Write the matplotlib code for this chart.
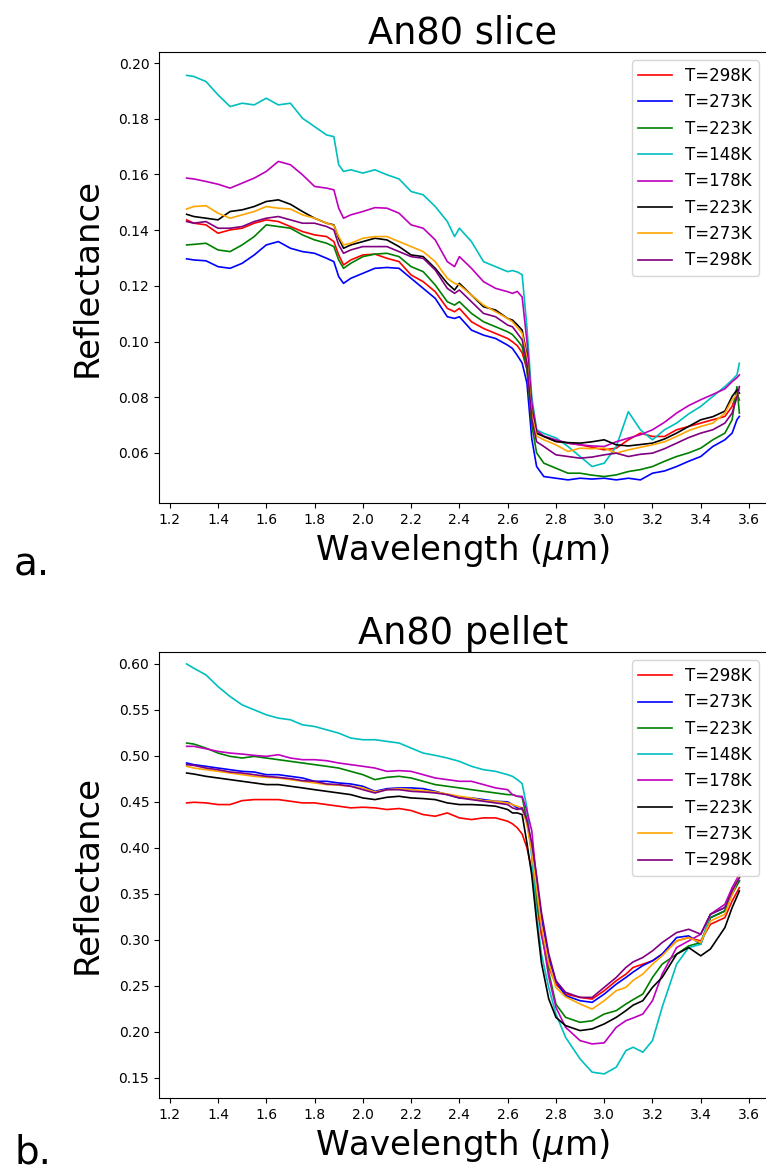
import matplotlib
matplotlib.use("Agg")
import matplotlib.pyplot as plt
from matplotlib.ticker import MultipleLocator, FormatStrFormatter

# ---------------- data: panel a (An80 slice) ----------------
wl_a = [1.27, 1.30, 1.35, 1.40, 1.45, 1.50, 1.55, 1.60, 1.65, 1.70, 1.75, 1.80, 1.85, 1.88,
        1.90, 1.92, 1.95, 2.00, 2.05, 2.10, 2.15, 2.20, 2.25, 2.30, 2.35, 2.38, 2.40, 2.45,
        2.50, 2.55, 2.60, 2.62, 2.64, 2.66, 2.68, 2.70, 2.72, 2.75, 2.80, 2.85, 2.90, 2.95,
        3.00, 3.05, 3.10, 3.15, 3.20, 3.25, 3.30, 3.35, 3.40, 3.45, 3.50, 3.53, 3.55, 3.56]

a_298 = [0.1437, 0.1425, 0.1419, 0.1389, 0.1401, 0.1407, 0.1425, 0.1437, 0.1431, 0.1413, 0.1395, 0.1383, 0.1377, 0.1359,
         0.1311, 0.1275, 0.1293, 0.1311, 0.1314, 0.1299, 0.1287, 0.1239, 0.1215, 0.1179, 0.1119, 0.1107, 0.1119, 0.1071,
         0.1047, 0.1029, 0.1011, 0.0999, 0.0985, 0.0960, 0.0900, 0.0740, 0.0680, 0.0659, 0.0641, 0.0635, 0.0629, 0.0620,
         0.0611, 0.0617, 0.0647, 0.0671, 0.0659, 0.0659, 0.0683, 0.0695, 0.0707, 0.0719, 0.0731, 0.0767, 0.0815, 0.0790]
a_273 = [0.1297, 0.1293, 0.1290, 0.1269, 0.1263, 0.1281, 0.1311, 0.1347, 0.1359, 0.1335, 0.1323, 0.1317, 0.1299, 0.1287,
         0.1233, 0.1209, 0.1227, 0.1245, 0.1263, 0.1266, 0.1263, 0.1227, 0.1191, 0.1155, 0.1089, 0.1083, 0.1089, 0.1041,
         0.1023, 0.1011, 0.0987, 0.0975, 0.0950, 0.0923, 0.0850, 0.0650, 0.0551, 0.0515, 0.0509, 0.0503, 0.0509, 0.0506,
         0.0509, 0.0503, 0.0509, 0.0503, 0.0527, 0.0535, 0.0551, 0.0570, 0.0587, 0.0623, 0.0647, 0.0671, 0.0719, 0.0731]
a_223 = [0.1347, 0.1349, 0.1353, 0.1329, 0.1323, 0.1347, 0.1377, 0.1419, 0.1413, 0.1407, 0.1383, 0.1365, 0.1353, 0.1341,
         0.1293, 0.1263, 0.1281, 0.1305, 0.1314, 0.1317, 0.1305, 0.1269, 0.1251, 0.1203, 0.1143, 0.1131, 0.1143, 0.1101,
         0.1071, 0.1053, 0.1035, 0.1025, 0.1005, 0.0982, 0.0900, 0.0700, 0.0600, 0.0563, 0.0545, 0.0527, 0.0527, 0.0520,
         0.0515, 0.0521, 0.0533, 0.0540, 0.0551, 0.0570, 0.0587, 0.0600, 0.0617, 0.0647, 0.0671, 0.0719, 0.0838, 0.0743]
a_148 = [0.1956, 0.1952, 0.1934, 0.1886, 0.1844, 0.1856, 0.1850, 0.1874, 0.1850, 0.1856, 0.1802, 0.1772, 0.1742, 0.1736,
         0.1635, 0.1611, 0.1617, 0.1605, 0.1617, 0.1599, 0.1584, 0.1539, 0.1527, 0.1485, 0.1431, 0.1377, 0.1407, 0.1359,
         0.1287, 0.1269, 0.1251, 0.1255, 0.1250, 0.1240, 0.1050, 0.0800, 0.0683, 0.0670, 0.0654, 0.0623, 0.0587, 0.0551,
         0.0563, 0.0623, 0.0748, 0.0683, 0.0647, 0.0683, 0.0707, 0.0740, 0.0767, 0.0803, 0.0838, 0.0862, 0.0880, 0.0922]
a_178 = [0.1587, 0.1584, 0.1575, 0.1565, 0.1551, 0.1569, 0.1587, 0.1611, 0.1647, 0.1635, 0.1599, 0.1557, 0.1551, 0.1545,
         0.1479, 0.1443, 0.1455, 0.1467, 0.1481, 0.1479, 0.1461, 0.1419, 0.1407, 0.1365, 0.1287, 0.1269, 0.1305, 0.1263,
         0.1215, 0.1191, 0.1179, 0.1173, 0.1180, 0.1160, 0.1000, 0.0780, 0.0680, 0.0660, 0.0647, 0.0635, 0.0629, 0.0625,
         0.0623, 0.0640, 0.0653, 0.0665, 0.0683, 0.0710, 0.0743, 0.0770, 0.0791, 0.0810, 0.0830, 0.0856, 0.0870, 0.0880]
a_223b = [0.1457, 0.1449, 0.1443, 0.1437, 0.1467, 0.1473, 0.1485, 0.1503, 0.1509, 0.1493, 0.1467, 0.1443, 0.1425, 0.1419,
          0.1371, 0.1335, 0.1347, 0.1359, 0.1371, 0.1365, 0.1341, 0.1311, 0.1305, 0.1263, 0.1209, 0.1185, 0.1209, 0.1167,
          0.1125, 0.1113, 0.1083, 0.1077, 0.1060, 0.1041, 0.0950, 0.0750, 0.0670, 0.0659, 0.0641, 0.0637, 0.0635, 0.0640,
          0.0647, 0.0629, 0.0625, 0.0630, 0.0635, 0.0650, 0.0671, 0.0695, 0.0719, 0.0730, 0.0750, 0.0803, 0.0826, 0.0815]
a_273b = [0.1476, 0.1485, 0.1488, 0.1461, 0.1443, 0.1455, 0.1467, 0.1485, 0.1479, 0.1476, 0.1455, 0.1443, 0.1425, 0.1417,
          0.1377, 0.1347, 0.1353, 0.1371, 0.1377, 0.1377, 0.1359, 0.1341, 0.1323, 0.1287, 0.1227, 0.1209, 0.1203, 0.1167,
          0.1131, 0.1107, 0.1083, 0.1071, 0.1050, 0.1030, 0.0940, 0.0740, 0.0660, 0.0647, 0.0629, 0.0605, 0.0617, 0.0615,
          0.0617, 0.0599, 0.0611, 0.0620, 0.0629, 0.0640, 0.0659, 0.0680, 0.0695, 0.0707, 0.0743, 0.0791, 0.0810, 0.0826]
a_298b = [0.1431, 0.1425, 0.1431, 0.1407, 0.1407, 0.1413, 0.1431, 0.1443, 0.1449, 0.1437, 0.1425, 0.1425, 0.1413, 0.1401,
          0.1347, 0.1317, 0.1329, 0.1341, 0.1341, 0.1341, 0.1323, 0.1305, 0.1299, 0.1257, 0.1191, 0.1173, 0.1185, 0.1143,
          0.1101, 0.1089, 0.1059, 0.1053, 0.1030, 0.1006, 0.0920, 0.0720, 0.0640, 0.0623, 0.0593, 0.0587, 0.0581, 0.0585,
          0.0593, 0.0599, 0.0587, 0.0595, 0.0599, 0.0615, 0.0635, 0.0655, 0.0671, 0.0683, 0.0707, 0.0743, 0.0800, 0.0838]

# ---------------- data: panel b (An80 pellet) ----------------
wl_b = [1.27, 1.30, 1.35, 1.40, 1.45, 1.50, 1.55, 1.60, 1.65, 1.70, 1.75, 1.80, 1.85, 1.90,
        1.95, 2.00, 2.05, 2.10, 2.15, 2.20, 2.25, 2.30, 2.35, 2.40, 2.45, 2.50, 2.55, 2.60,
        2.62, 2.64, 2.66, 2.68, 2.70, 2.72, 2.74, 2.77, 2.80, 2.84,
        2.90, 2.95, 3.00, 3.05, 3.09, 3.12, 3.16, 3.20, 3.24,
        3.30, 3.35, 3.40, 3.44, 3.50, 3.53, 3.56]

b_298 = [0.4489, 0.4496, 0.4489, 0.4471, 0.4471, 0.4514, 0.4525, 0.4525, 0.4525, 0.4507, 0.4489, 0.4489, 0.4471, 0.4453,
         0.4435, 0.4442, 0.4435, 0.4417, 0.4428, 0.4406, 0.4362, 0.4344, 0.4380, 0.4326, 0.4308, 0.4326, 0.4326, 0.4290,
         0.4261, 0.4218, 0.4150, 0.4001, 0.3750, 0.3400, 0.3050, 0.2700, 0.2518, 0.2410,
         0.2374, 0.2356, 0.2447, 0.2555, 0.2627, 0.2700, 0.2735, 0.2772, 0.2844,
         0.2988, 0.3025, 0.2988, 0.3169, 0.3241, 0.3422, 0.3567]
b_273 = [0.4923, 0.4905, 0.4887, 0.4868, 0.4850, 0.4832, 0.4825, 0.4796, 0.4796, 0.4778, 0.4760, 0.4724, 0.4724, 0.4706,
         0.4695, 0.4670, 0.4615, 0.4644, 0.4652, 0.4652, 0.4644, 0.4615, 0.4579, 0.4543, 0.4543, 0.4525, 0.4507, 0.4500,
         0.4471, 0.4435, 0.4420, 0.4300, 0.4000, 0.3642, 0.3250, 0.2800, 0.2550, 0.2393,
         0.2338, 0.2320, 0.2410, 0.2518, 0.2591, 0.2650, 0.2720, 0.2772, 0.2844,
         0.3025, 0.3043, 0.2952, 0.3241, 0.3314, 0.3531, 0.3640]
b_223 = [0.5140, 0.5129, 0.5085, 0.5031, 0.4995, 0.4977, 0.4995, 0.4977, 0.4959, 0.4941, 0.4923, 0.4905, 0.4887, 0.4868,
         0.4832, 0.4796, 0.4742, 0.4767, 0.4778, 0.4760, 0.4724, 0.4688, 0.4670, 0.4652, 0.4633, 0.4615, 0.4597, 0.4579,
         0.4579, 0.4561, 0.4550, 0.4300, 0.3950, 0.3460, 0.3100, 0.2650, 0.2300, 0.2157,
         0.2103, 0.2120, 0.2193, 0.2230, 0.2302, 0.2350, 0.2410, 0.2591, 0.2735,
         0.2844, 0.2934, 0.2970, 0.3241, 0.3314, 0.3495, 0.3640]
b_148 = [0.6000, 0.5953, 0.5881, 0.5754, 0.5646, 0.5555, 0.5501, 0.5447, 0.5411, 0.5393, 0.5338, 0.5320, 0.5284, 0.5248,
         0.5194, 0.5176, 0.5176, 0.5158, 0.5140, 0.5085, 0.5031, 0.5006, 0.4977, 0.4941, 0.4887, 0.4850, 0.4832, 0.4796,
         0.4778, 0.4742, 0.4700, 0.4435, 0.3893, 0.3278, 0.2844, 0.2483, 0.2193, 0.1940,
         0.1705, 0.1561, 0.1542, 0.1615, 0.1796, 0.1832, 0.1778, 0.1904, 0.2266,
         0.2735, 0.2916, 0.2952, 0.3278, 0.3350, 0.3531, 0.3676]
b_178 = [0.5104, 0.5104, 0.5078, 0.5049, 0.5031, 0.5020, 0.5006, 0.4995, 0.5013, 0.4977, 0.4959, 0.4959, 0.4948, 0.4923,
         0.4905, 0.4887, 0.4868, 0.4832, 0.4840, 0.4832, 0.4796, 0.4760, 0.4742, 0.4724, 0.4724, 0.4688, 0.4652, 0.4633,
         0.4579, 0.4561, 0.4560, 0.4400, 0.4185, 0.3642, 0.3100, 0.2600, 0.2266, 0.2049,
         0.1904, 0.1868, 0.1880, 0.2049, 0.2121, 0.2150, 0.2193, 0.2338, 0.2627,
         0.2916, 0.2988, 0.3061, 0.3278, 0.3386, 0.3567, 0.3712]
b_223b = [0.4814, 0.4803, 0.4778, 0.4760, 0.4742, 0.4724, 0.4706, 0.4688, 0.4688, 0.4670, 0.4652, 0.4633, 0.4615, 0.4597,
          0.4579, 0.4543, 0.4525, 0.4550, 0.4561, 0.4543, 0.4536, 0.4525, 0.4489, 0.4471, 0.4471, 0.4464, 0.4453, 0.4417,
          0.4380, 0.4380, 0.4362, 0.4050, 0.3700, 0.3200, 0.2750, 0.2360, 0.2157, 0.2067,
          0.2013, 0.2031, 0.2085, 0.2157, 0.2230, 0.2290, 0.2338, 0.2483, 0.2591,
          0.2844, 0.2916, 0.2826, 0.2900, 0.3133, 0.3350, 0.3531]
b_273b = [0.4887, 0.4868, 0.4850, 0.4832, 0.4814, 0.4796, 0.4778, 0.4767, 0.4760, 0.4742, 0.4724, 0.4706, 0.4688, 0.4681,
          0.4670, 0.4652, 0.4608, 0.4633, 0.4644, 0.4633, 0.4622, 0.4608, 0.4586, 0.4561, 0.4543, 0.4514, 0.4507, 0.4489,
          0.4471, 0.4453, 0.4435, 0.4250, 0.3950, 0.3550, 0.3150, 0.2750, 0.2483, 0.2380,
          0.2302, 0.2247, 0.2338, 0.2447, 0.2483, 0.2560, 0.2627, 0.2735, 0.2826,
          0.2988, 0.3025, 0.2970, 0.3205, 0.3278, 0.3495, 0.3694]
b_298b = [0.4905, 0.4897, 0.4868, 0.4850, 0.4825, 0.4814, 0.4796, 0.4778, 0.4767, 0.4753, 0.4731, 0.4724, 0.4695, 0.4688,
          0.4670, 0.4633, 0.4597, 0.4633, 0.4633, 0.4615, 0.4608, 0.4597, 0.4579, 0.4543, 0.4525, 0.4507, 0.4489, 0.4471,
          0.4435, 0.4417, 0.4435, 0.4300, 0.4050, 0.3700, 0.3300, 0.2850, 0.2555, 0.2429,
          0.2374, 0.2374, 0.2483, 0.2591, 0.2700, 0.2760, 0.2808, 0.2880, 0.2970,
          0.3079, 0.3115, 0.3061, 0.3278, 0.3350, 0.3531, 0.3676]

labels = ["T=298K", "T=273K", "T=223K", "T=148K", "T=178K", "T=223K", "T=273K", "T=298K"]
colors = ["r", "b", "g", "c", "m", "k", "orange", "purple"]
series_a = [a_298, a_273, a_223, a_148, a_178, a_223b, a_273b, a_298b]
series_b = [b_298, b_273, b_223, b_148, b_178, b_223b, b_273b, b_298b]

W, H = 766, 1173
fig = plt.figure(figsize=(W / 100, H / 100), dpi=100)


def px_axes(left, top, right, bottom):
    return fig.add_axes([left / W, 1 - bottom / H, (right - left) / W, (bottom - top) / H])


def draw(ax, wl, series, title, ystep, ylim):
    for ys, c, lab in zip(series, colors, labels):
        ax.plot(wl, ys, color=c, lw=1.2, label=lab)
    ax.set_title(title, fontsize=26.5)
    ax.set_xlabel(r"Wavelength ($\mu$m)", fontsize=24.5)
    ax.set_ylabel("Reflectance", fontsize=24.5, labelpad=11)
    ax.xaxis.set_major_locator(MultipleLocator(0.2))
    ax.yaxis.set_major_locator(MultipleLocator(ystep))
    ax.yaxis.set_major_formatter(FormatStrFormatter("%.2f"))
    ax.xaxis.set_major_formatter(FormatStrFormatter("%.1f"))
    ax.set_ylim(*ylim)
    ax.tick_params(labelsize=10)
    ax.legend(loc="upper right", fontsize=12)


ax1 = px_axes(159, 52, 767, 503)
draw(ax1, wl_a, series_a, "An80 slice", 0.02, (0.042, 0.204))

ax2 = px_axes(159, 652, 767, 1098)
draw(ax2, wl_b, series_b, "An80 pellet", 0.05, (0.128, 0.613))

fig.text(14 / W, 1 - 565 / H, "a.", fontsize=28, va="center", ha="left")
fig.text(14 / W, 1 - 1152 / H, "b.", fontsize=28, va="center", ha="left")

fig.savefig("out.png", dpi=100)
